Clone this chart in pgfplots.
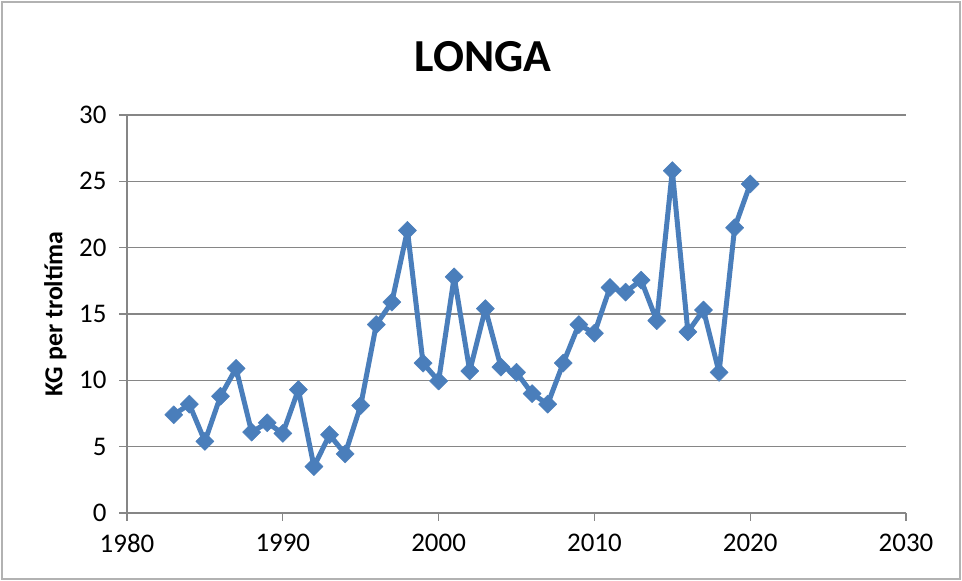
\documentclass[border=0pt]{standalone}
\usepackage{pgfplots}
\pgfplotsset{compat=1.18}
\usepackage{fontspec}
\setmainfont{Carlito}
\definecolor{xlblue}{RGB}{74,126,187}
\definecolor{xlgrid}{RGB}{134,134,134}
\begin{document}
\begin{tikzpicture}[x=1bp,y=1bp]
\fill[white] (0,0) rectangle (962,581);
\draw[gray!60, line width=1.2bp] (2,2) rectangle (960,579);
\node[font=\fontsize{46}{50}\selectfont\bfseries] at (483,524) {LONGA};
\begin{axis}[
  at={(127bp,68bp)}, anchor=south west,
  scale only axis, width=779bp, height=398bp,
  xmin=1980, xmax=2030, ymin=0, ymax=30,
  xtick={1980,1990,...,2030}, ytick={0,5,...,30},
  axis x line*=bottom, axis y line*=left,
  axis line style={-, xlgrid, line width=1.3bp},
  tick style={xlgrid, line width=1.3bp},
  tick align=outside, major tick length=8bp,
  ymajorgrids, grid style={xlgrid, line width=1.3bp},
  /pgf/number format/1000 sep={},
  /pgf/number format/assume math mode=true,
  ticklabel style={font=\fontsize{27}{30}\selectfont},
  xticklabel style={yshift=-10bp},
  yticklabel style={xshift=-9bp},
  ylabel={\textbf{KG per troltíma}},
  ylabel style={font=\fontsize{26}{28}\selectfont, at={(axis description cs:-0.092,0.5)}, anchor=center},
  clip=false,
]
\addplot[xlblue, line width=5bp, line join=round, mark=square*, mark size=6.4bp, mark options={rotate=45, fill=xlblue, draw=xlblue, line width=0.5bp}] coordinates {
(1983,7.4) (1984,8.2) (1985,5.4) (1986,8.8) (1987,10.9) (1988,6.1) (1989,6.8) (1990,6.0)
(1991,9.3) (1992,3.5) (1993,5.9) (1994,4.45) (1995,8.1) (1996,14.2) (1997,15.9) (1998,21.3)
(1999,11.3) (2000,9.95) (2001,17.8) (2002,10.7) (2003,15.4) (2004,11.0) (2005,10.6) (2006,9.0)
(2007,8.2) (2008,11.3) (2009,14.2) (2010,13.55) (2011,17.0) (2012,16.65) (2013,17.55) (2014,14.5)
(2015,25.8) (2016,13.65) (2017,15.3) (2018,10.6) (2019,21.5) (2020,24.8)
};
\end{axis}
\end{tikzpicture}
\end{document}
